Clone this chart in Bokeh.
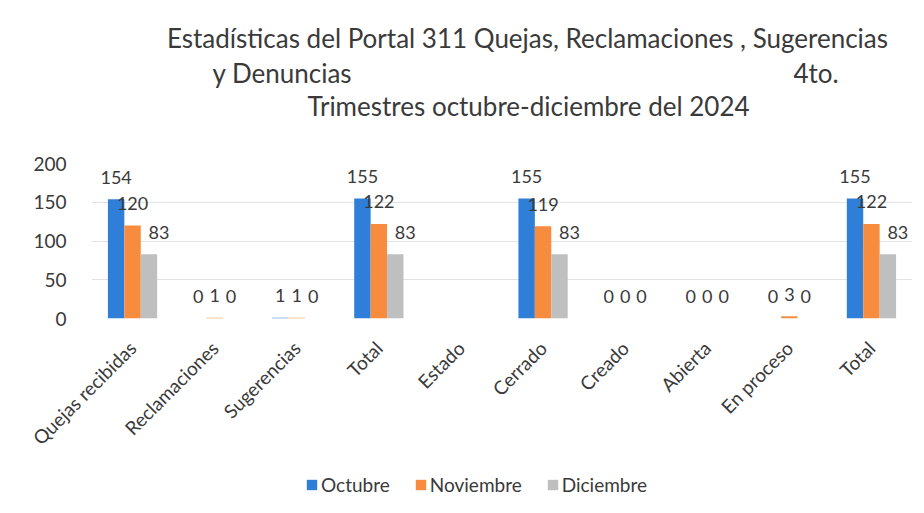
import math
from bokeh.plotting import figure
from bokeh.layouts import column
from bokeh.core.properties import value
from bokeh.models import (ColumnDataSource, LabelSet, Label, Legend, LegendItem,
                          FixedTicker, Range1d)
from bokeh.transform import dodge
from bokeh.embed import file_html
from bokeh.resources import INLINE

categories = ["Quejas recibidas", "Reclamaciones", "Sugerencias", "Total", "Estado",
              "Cerrado", "Creado", "Abierta", "En proceso", "Total"]
series_names = ["Octubre", "Noviembre", "Diciembre"]
octubre = [154, 0, 1, 155, float("nan"), 155, 0, 0, 0, 155]
noviembre = [120, 1, 1, 122, float("nan"), 119, 0, 0, 3, 122]
diciembre = [83, 0, 0, 83, float("nan"), 83, 0, 0, 0, 83]
y_ticks = [0, 50, 100, 150, 200]
title_line1 = "Estadísticas del Portal 311 Quejas, Reclamaciones , Sugerencias"
title_line2a = "y Denuncias"
title_line2b = "4to."
title_line3 = "Trimestres octubre-diciembre del 2024"

colors = ["#2F7ED8", "#F78C3F", "#BFBFBF"]
FONT = "Lato"
TXT = "#3a3a3a"
W = 920
FL, FR = 91, 912   # frame left / right (canvas px), shared by the column

idx = list(range(len(categories)))
src = ColumnDataSource(dict(x=idx, oct=octubre, nov=noviembre, dic=diciembre))
offsets = [-0.2, 0.0, 0.2]
cols = ["oct", "nov", "dic"]

def bare(height, y0=0):
    f = figure(width=W, height=height, output_backend="svg", toolbar_location=None,
               x_range=Range1d(FL, FR), y_range=Range1d(y0, y0 + height),
               x_axis_type=None, y_axis_type=None, min_border=0,
               min_border_left=FL, min_border_right=W - FR)
    f.outline_line_color = None
    f.xgrid.visible = False
    f.ygrid.visible = False
    return f

# ---- title block ----
TH = 153
top = bare(TH)
for text, x, y, align in [
    (title_line1, 527, TH - 37, "center"),
    (title_line2a, 212, TH - 72, "left"),
    (title_line2b, 793, TH - 72, "left"),
    (title_line3, 528, TH - 105, "center"),
]:
    top.add_layout(Label(x=x, y=y, text=text, text_align=align, text_baseline="middle",
                         text_font=FONT, text_font_size="26px", text_color=TXT))

# ---- main chart ----
p = figure(width=W, height=307, output_backend="svg", toolbar_location=None,
           x_range=Range1d(-0.5, len(categories) - 0.5), y_range=Range1d(0, 200),
           min_border_left=FL, min_border_right=W - FR, min_border_top=10,
           min_border_bottom=142)
p.outline_line_color = None

for c, off, col in zip(cols, offsets, colors):
    p.vbar(x=dodge("x", off), top=c, width=0.2, source=src,
           fill_color=col, line_color=None)

for k, (off, vals) in enumerate(zip(offsets, [octubre, noviembre, diciembre])):
    groups = {0: ([], [], []), 1: ([], [], [])}
    for i, v in enumerate(vals):
        if v == v:
            g = 1 if (k == 2 and v > 50) else 0
            groups[g][0].append(i + off)
            groups[g][1].append(v)
            groups[g][2].append(str(int(v)))
    for g, (xs, ys, ts) in groups.items():
        if not xs:
            continue
        ls = ColumnDataSource(dict(x=xs, y=ys, t=ts))
        p.add_layout(LabelSet(x="x", y="y", text="t", source=ls, text_align="center",
                              text_baseline="middle", y_offset=22,
                              x_offset=10 if g == 1 else 0,
                              text_font=value(FONT), text_font_size="18px",
                              text_color=TXT))

p.xaxis.ticker = FixedTicker(ticks=idx)
p.xaxis.major_label_overrides = {i: n for i, n in enumerate(categories)}
p.xaxis.major_label_orientation = math.pi / 4
p.xaxis.axis_line_color = None
p.xaxis.major_tick_line_color = None
p.xaxis.minor_tick_line_color = None
p.xaxis.major_label_text_font = FONT
p.xaxis.major_label_text_font_size = "19px"
p.xaxis.major_label_text_color = TXT
p.xaxis.major_label_standoff = 20

p.yaxis.ticker = FixedTicker(ticks=y_ticks)
p.yaxis.axis_line_color = None
p.yaxis.major_tick_line_color = None
p.yaxis.minor_tick_line_color = None
p.yaxis.major_label_text_font = FONT
p.yaxis.major_label_text_font_size = "19px"
p.yaxis.major_label_text_color = TXT
p.yaxis.major_label_standoff = 19

p.xgrid.grid_line_color = None
p.ygrid.grid_line_color = "#E3E3E3"
p.ygrid.ticker = FixedTicker(ticks=y_ticks)

# ---- legend block (proxy bars share the data but lie outside this panel's ranges) ----
LH = 51
leg = bare(LH, y0=1000)
proxies = [leg.vbar(x=dodge("x", off), top=c, width=0.2, source=src,
                    fill_color=col, line_color=None)
           for c, off, col in zip(cols, offsets, colors)]
legend = Legend(items=[LegendItem(label=n, renderers=[r]) for n, r in zip(series_names, proxies)],
                orientation="horizontal", location=(210, 11),
                border_line_alpha=0, background_fill_alpha=0,
                label_text_font=FONT, label_text_font_size="19px",
                label_text_color=TXT, glyph_width=13, glyph_height=13,
                spacing=24, label_standoff=3, padding=4, margin=0)
leg.add_layout(legend)

lay = column(top, p, leg, spacing=0)
open("out.html", "w").write(file_html(lay, INLINE))
